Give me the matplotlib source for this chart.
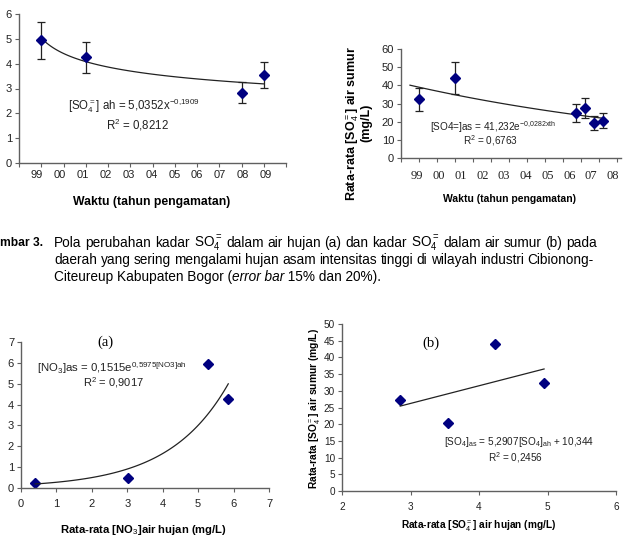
import numpy as np
import matplotlib
matplotlib.use('Agg')
import matplotlib.pyplot as plt

plt.rcParams['font.family'] = ['Liberation Sans', 'DejaVu Sans']
plt.rcParams['mathtext.fontset'] = 'custom'
plt.rcParams['mathtext.rm'] = 'Liberation Sans'
plt.rcParams['mathtext.it'] = 'Liberation Sans:italic'
plt.rcParams['mathtext.bf'] = 'Liberation Sans:bold'

# --- data ---
# (top-left) SO4 in rain water, x = year index (99 -> 1)
rain_year_labels = ['99', '00', '01', '02', '03', '04', '05', '06', '07', '08', '09']
rain_x = [1, 3, 10, 11]
rain_so4 = [4.95, 4.25, 2.82, 3.55]
rain_err_pct = 0.15

# (top-right) SO4 in well water, x in fit units
well_year_labels = ['99', '00', '01', '02', '03', '04', '05', '06', '07', '08']
well_t = [2, 6, 19.5, 20.5, 21.5, 22.5]
well_so4 = [32.3, 44.2, 24.9, 27.3, 19.4, 20.5]
well_err_pct = 0.20

# (bottom-left) NO3 rain vs NO3 well
no3_rain = [0.40, 3.03, 5.28, 5.85]
no3_well = [0.25, 0.50, 5.93, 4.25]

# (bottom-right) SO4 rain vs SO4 well
so4_rain = [2.85, 3.55, 4.24, 4.95]
so4_well = [27.3, 20.5, 44.0, 32.2]

W, H = 638, 550
fig = plt.figure(figsize=(W / 100, H / 100), dpi=100)
renderer = fig.canvas.get_renderer()


def box(l, t, r, b):
    return [l / W, 1 - b / H, (r - l) / W, (b - t) / H]


def px(x, y):
    return x / W, 1 - y / H


navy = '#000080'
axcol = '#606060'
txtcol = '#222222'


def style(ax, fs):
    for s in ['top', 'right']:
        ax.spines[s].set_visible(False)
    for s in ['left', 'bottom']:
        ax.spines[s].set_color(axcol)
        ax.spines[s].set_linewidth(1.0)
    ax.tick_params(direction='out', length=3, width=0.8, color=axcol,
                   labelsize=fs, labelcolor=txtcol, pad=2)


# ---------- top-left ----------
ax1 = fig.add_axes(box(19, 14, 286, 163))
style(ax1, 8)
ax1.errorbar(rain_x, rain_so4, yerr=np.array(rain_so4) * rain_err_pct, fmt='D',
             color=navy, ms=5, ecolor=txtcol, elinewidth=0.9, capsize=3, capthick=0.9)
xf = np.linspace(1, 11, 100)
ax1.plot(xf, 5.0352 * xf ** -0.1909, color=txtcol, lw=0.9)
ax1.set_xlim(0, 12)
ax1.set_ylim(0, 6)
ax1.set_xticks(range(0, 13))
ax1.set_xticklabels([])
ax1.set_yticks(range(0, 7))
for xx, lab in zip(np.linspace(0.8, 11.1, 11), rain_year_labels):
    ax1.text(xx, -0.5, lab, ha='center', va='center', fontsize=8, color=txtcol)
fig.text(*px(152, 202), 'Waktu (tahun pengamatan)', ha='center', va='center',
         fontsize=8.8, fontweight='bold')
fig.text(*px(68, 106), r'[SO$_4^{=}$] ah = 5,0352x$^{\mathrm{-0{,}1909}}$', ha='left',
         va='center', fontsize=8.3, color=txtcol)
fig.text(*px(137, 125), r'R$^2$ = 0,8212', ha='center', va='center', fontsize=8.3,
         color=txtcol)

# ---------- top-right ----------
ax2 = fig.add_axes(box(401, 49, 621, 158))
style(ax2, 8)
ax2.errorbar(well_t, well_so4, yerr=np.array(well_so4) * well_err_pct, fmt='D',
             color=navy, ms=5, ecolor=txtcol, elinewidth=0.9, capsize=3, capthick=0.9)
tf = np.linspace(1, 22.5, 100)
ax2.plot(tf, 41.232 * np.exp(-0.0282 * tf), color=txtcol, lw=0.9)
ax2.set_xlim(0, 24.5)
ax2.set_ylim(0, 60)
ax2.set_xticks(range(0, 25, 2))
ax2.set_xticklabels([])
ax2.set_yticks(range(0, 61, 10))
for xx, lab in zip(np.linspace(1.8, 23.6, 10), well_year_labels):
    ax2.text(xx, -10, lab, ha='center', va='center', fontsize=9,
             family='Liberation Serif', color=txtcol)
fig.text(*px(510, 199), 'Waktu (tahun pengamatan)', ha='center', va='center',
         fontsize=7.5, fontweight='bold')
fig.text(*px(353, 124), 'Rata-rata [SO$_4^{=}$] air sumur', ha='center',
         va='center', rotation=90, fontsize=9, fontweight='bold')
fig.text(*px(366, 123), '(mg/L)', ha='center',
         va='center', rotation=90, fontsize=9, fontweight='bold')
fig.text(*px(430, 127), r'[SO4=]as = 41,232e$^{\mathrm{-0{,}0282xth}}$', ha='left',
         va='center', fontsize=7.2, color=txtcol)
fig.text(*px(491, 141), r'R$^2$ = 0,6763', ha='center', va='center', fontsize=7.2,
         color=txtcol)

# ---------- caption ----------
cap_line1 = r'Pola perubahan kadar SO$_4^{=}$ dalam air hujan (a) dan kadar SO$_4^{=}$ dalam air sumur (b) pada'
cap_line2 = 'daerah yang sering mengalami hujan asam intensitas tinggi di wilayah industri Cibionong-'

# pick the font size so that line 1 fills its width with normal spacing
probe = fig.text(0, 0, cap_line1, fontsize=9)
cap_fs = 9 * 540 / probe.get_window_extent(renderer).width
probe.remove()


def justify(words, x0, x1, y):
    ts = [fig.text(*px(x0, y), w, ha='left', va='center', fontsize=cap_fs) for w in words]
    ws = [t.get_window_extent(renderer).width for t in ts]
    gap = (x1 - x0 - sum(ws)) / (len(ws) - 1)
    x = x0
    for t, w in zip(ts, ws):
        t.set_position(px(x, y))
        x += w + gap


fig.text(*px(0, 243), 'mbar 3.', ha='left', va='center', fontsize=cap_fs * 0.88,
         fontweight='bold')
justify(cap_line1.split(' '), 54, 597, 243)
justify(cap_line2.split(' '), 54, 594, 260)
xcur = 54
for seg, st in [('Citeureup Kabupaten Bogor (', 'normal'), ('error bar', 'italic'),
                (' 15% dan 20%).', 'normal')]:
    t = fig.text(*px(xcur, 277), seg, ha='left', va='center', fontsize=cap_fs, style=st)
    xcur += t.get_window_extent(renderer).width

# ---------- bottom-left ----------
ax3 = fig.add_axes(box(21, 342, 269, 488))
style(ax3, 8)
ax3.plot(no3_rain, no3_well, 'D', color=navy, ms=5)
nf = np.linspace(min(no3_rain), max(no3_rain), 100)
ax3.plot(nf, 0.1515 * np.exp(0.5975 * nf), color=txtcol, lw=0.9)
ax3.set_xlim(0, 7)
ax3.set_ylim(0, 7)
ax3.set_xticks(range(0, 8))
ax3.set_yticks(range(0, 8))
ax3.tick_params(axis='x', pad=5)
fig.text(*px(105, 342), '(a)', ha='center', va='center', fontsize=10.5,
         family='Liberation Serif')
fig.text(*px(37, 368), r'[NO$_3$]as = 0,1515e$^{\mathrm{0{,}5975[NO3]ah}}$', ha='left',
         va='center', fontsize=8.2, color=txtcol)
fig.text(*px(113, 383), r'R$^2$ = 0,9017', ha='center', va='center', fontsize=8,
         color=txtcol)
fig.text(*px(143, 530), r'Rata-rata [NO$_3$]air hujan (mg/L)', ha='center', va='center',
         fontsize=8.1, fontweight='bold')

# ---------- bottom-right ----------
ax4 = fig.add_axes(box(342, 324, 616, 491))
style(ax4, 7.2)
ax4.plot(so4_rain, so4_well, 'D', color=navy, ms=5)
sf = np.array([min(so4_rain), max(so4_rain)])
ax4.plot(sf, 5.2907 * sf + 10.344, color=txtcol, lw=0.9)
ax4.set_xlim(2, 6)
ax4.set_ylim(0, 50)
ax4.set_xticks(range(2, 7))
ax4.set_yticks(range(0, 51, 5))
ax4.tick_params(axis='x', pad=5)
fig.text(*px(431, 343), '(b)', ha='center', va='center', fontsize=10.5,
         family='Liberation Serif')
fig.text(*px(444, 442), r'[SO$_4$]$_{\mathrm{as}}$ = 5,2907[SO$_4$]$_{\mathrm{ah}}$ + 10,344',
         ha='left', va='center', fontsize=7.2, color=txtcol)
fig.text(*px(516, 458), r'R$^2$ = 0,2456', ha='center', va='center', fontsize=7.2,
         color=txtcol)
fig.text(*px(479, 526), r'Rata-rata [SO$_4^{=}$] air hujan (mg/L)', ha='center',
         va='center', fontsize=7.3, fontweight='bold')
fig.text(*px(315, 408), r'Rata-rata [SO$_4^{=}$] air sumur (mg/L)', ha='center',
         va='center', rotation=90, fontsize=7.4, fontweight='bold')

fig.savefig('out.png', dpi=100)
